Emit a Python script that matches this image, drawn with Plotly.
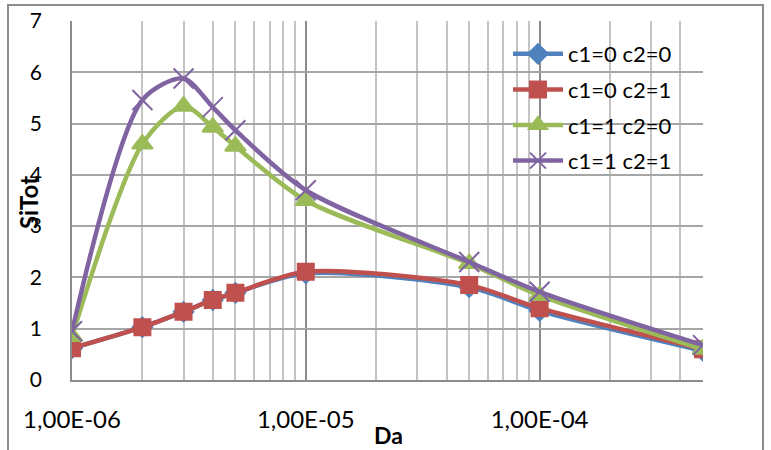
import plotly.graph_objects as go

da = [1e-6, 2e-6, 3e-6, 4e-6, 5e-6, 1e-5, 5e-5, 1e-4, 5e-4]
s00 = [0.62, 1.03, 1.33, 1.56, 1.70, 2.08, 1.81, 1.35, 0.57]
s01 = [0.62, 1.03, 1.33, 1.56, 1.70, 2.11, 1.85, 1.40, 0.60]
s10 = [0.85, 4.60, 5.34, 4.93, 4.56, 3.50, 2.27, 1.65, 0.60]
s11 = [0.95, 5.46, 5.88, 5.32, 4.87, 3.70, 2.30, 1.72, 0.68]
names = ["c1=0 c2=0", "c1=0 c2=1", "c1=1 c2=0", "c1=1 c2=1"]
colors = ["#4F81BD", "#C0504D", "#9BBB59", "#8064A2"]
symbols = ["diamond", "square", "triangle-up", "x-thin-open"]
sizes = [15, 16, 18, 20]
series = [s00, s01, s10, s11]

xtickvals = [1e-6, 1e-5, 1e-4]
xticktext = ["1,00E-06", "1,00E-05", "1,00E-04"]
minorvals = [m * d for d in [1e-6, 1e-5, 1e-4] for m in range(2, 10) if m * d <= 5e-4]

FONT = "Lato"
fig = go.Figure()
for i in range(4):
    fig.add_trace(go.Scatter(
        x=da, y=series[i], name=names[i], mode="lines+markers",
        line=dict(color=colors[i], width=4.5, shape="spline", smoothing=0.8),
        marker=dict(symbol=symbols[i], size=sizes[i], color=colors[i],
                    line=dict(color=colors[i], width=2)),
        legendgroup=str(i),
    ))

L, R, T, B = 72, 68, 21, 70
PW, PH = 771 - L - R, 450 - T - B

fig.update_layout(
    width=771, height=450,
    margin=dict(l=L, r=R, t=T, b=B, autoexpand=False),
    paper_bgcolor="white", plot_bgcolor="white",
    font=dict(family=FONT, size=20, color="black"),
    showlegend=True,
    legend=dict(x=(508 - L) / PW, y=(380 - 33) / PH, xanchor="left", yanchor="top",
                bgcolor="rgba(0,0,0,0)", font=dict(size=22), tracegroupgap=4,
                itemwidth=50),
    xaxis=dict(type="log", range=[-6, 0.69897 - 4], tickvals=xtickvals, ticktext=xticktext,
               showgrid=True, gridcolor="#8C8C8C", gridwidth=1.5, automargin=False,
               minor=dict(tickvals=minorvals, showgrid=True, gridcolor="#C4C4C4", gridwidth=1.5),
               showline=True, linecolor="#8C8C8C", linewidth=1.5,
               ticks="", ticklabelstandoff=17, tickfont=dict(size=24), zeroline=False),
    yaxis=dict(range=[0, 7], dtick=1, showgrid=True, gridcolor="#A6A6A6", gridwidth=1.5,
               showline=True, linecolor="#8C8C8C", linewidth=1.5, automargin=False,
               ticks="", ticklabelstandoff=24, tickfont=dict(size=21), zeroline=False),
    annotations=[
        dict(text="<b>Da</b>", xref="paper", yref="paper", x=(388 - L) / PW, y=(380 - 435) / PH,
             showarrow=False, font=dict(size=23), xanchor="center", yanchor="middle"),
        dict(text="<b>SiTot</b>", xref="paper", yref="paper", x=(29 - L) / PW, y=(380 - 202) / PH,
             showarrow=False, font=dict(size=24), textangle=-90, xanchor="center", yanchor="middle"),
    ],
    shapes=[
        dict(type="rect", xref="paper", yref="paper",
             x0=(8 - L) / PW, x1=(763 - L) / PW, y0=(380 - 460) / PH, y1=(380 - 5) / PH,
             line=dict(color="#8C8C8C", width=2), fillcolor="rgba(0,0,0,0)", layer="below"),
    ],
)

fig.write_html("out.html", config={"displayModeBar": False},
               post_script="document.body.style.margin='0';")
